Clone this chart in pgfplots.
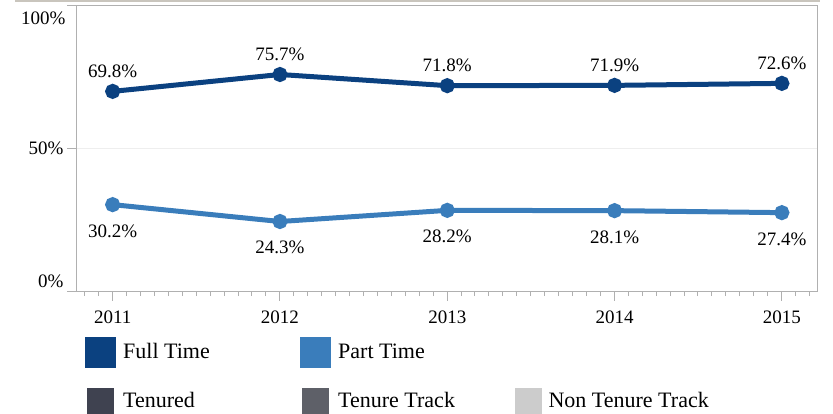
\documentclass[border=0pt]{standalone}
\usepackage{fontspec}
\setmainfont{Liberation Serif}
\usepackage{pgfplots}
\pgfplotsset{compat=1.18}
\definecolor{ft}{HTML}{0B4180}
\definecolor{pt}{HTML}{3A7DBB}
\definecolor{ten}{HTML}{3F4250}
\definecolor{tt}{HTML}{5E6068}
\definecolor{ntt}{HTML}{CCCCCC}
\definecolor{axgray}{HTML}{B0B0B0}
\definecolor{topline}{HTML}{C9C5BD}
\definecolor{gridc}{HTML}{EEEEEE}
\begin{document}
\fontsize{19}{22}\selectfont
\begin{tikzpicture}
\useasboundingbox (0pt,0pt) rectangle (833pt,-413pt);
\draw[topline, line width=2pt] (15pt,-1pt) -- (820pt,-1pt);
\begin{axis}[
  at={(76.7pt,-291pt)}, anchor=south west,
  scale only axis, width=740.3pt, height=286pt,
  xmin=2010.785, xmax=2015.21, ymin=0, ymax=100,
  axis line style={axgray, line width=1pt},
  xtick={2011,2012,2013,2014,2015},
  xticklabels={2011,2012,2013,2014,2015},
  minor xtick={2010.8333333,2010.9166667,...,2015.2},
  ytick={0,50,100}, yticklabels={},
  tick align=outside,
  major tick length=9.5pt, minor tick length=5pt,
  every tick/.style={axgray, line width=1pt},
  xtick pos=bottom, ytick pos=left,
  ymajorgrids, grid style={gridc, line width=1pt},
  clip=false,
  /pgf/number format/assume math mode=true,
  xticklabel style={font=\fontsize{19}{22}\selectfont, yshift=-4pt},
  legend columns=3,
  legend cell align=left,
  legend image code/.code={\fill[#1] (0pt,-13pt) rectangle (26pt,13pt);},
  legend style={draw=none, fill=none, inner sep=0pt, nodes={inner sep=0pt},
    at={(0.0112,-0.1608)}, anchor=north west, row sep=20pt,
    font=\fontsize{22}{24}\selectfont},
]
\addplot[ft, line width=5pt, mark=*, mark size=5pt, mark options={solid},
  nodes near coords={\pgfmathprintnumber[fixed,precision=1,fixed zerofill]{\pgfplotspointmeta}\%},
  nodes near coords style={anchor=south, yshift=5pt, text=black, font=\fontsize{19}{22}\selectfont}]
  coordinates {(2011,69.8) (2012,75.7) (2013,71.8) (2014,71.9) (2015,72.6)};
\addlegendentry{\hspace{7pt}\makebox[177pt][l]{Full Time}}
\addplot[pt, line width=5pt, mark=*, mark size=5pt, mark options={solid},
  nodes near coords={\pgfmathprintnumber[fixed,precision=1,fixed zerofill]{\pgfplotspointmeta}\%},
  nodes near coords style={anchor=north, yshift=-11pt, text=black, font=\fontsize{19}{22}\selectfont}]
  coordinates {(2011,30.2) (2012,24.3) (2013,28.2) (2014,28.1) (2015,27.4)};
\addlegendentry{\hspace{7pt}\makebox[177pt][l]{Part Time}}
\addlegendimage{opacity=0}
\addlegendentry{\hspace{7pt}\makebox[177pt][l]{}}
\addlegendimage{ten}
\addlegendentry{\hspace{7pt}\makebox[177pt][l]{Tenured}}
\addlegendimage{tt}
\addlegendentry{\hspace{7pt}\makebox[177pt][l]{Tenure Track}}
\addlegendimage{ntt}
\addlegendentry{\hspace{7pt}\makebox[177pt][l]{Non Tenure Track}}
\node[anchor=east, inner sep=0pt] at (rel axis cs:0,1) [xshift=-11pt, yshift=-13pt] {100\%};
\node[anchor=east, inner sep=0pt] at (rel axis cs:0,0.5) [xshift=-13pt] {50\%};
\node[anchor=east, inner sep=0pt] at (rel axis cs:0,0) [xshift=-13pt, yshift=10pt] {0\%};
\end{axis}
\end{tikzpicture}
\end{document}
